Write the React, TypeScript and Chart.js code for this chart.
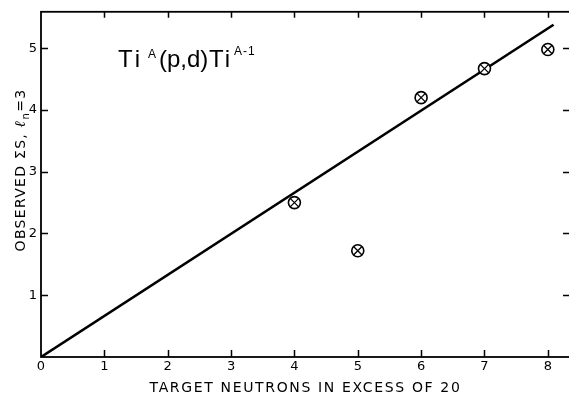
import React, { useEffect, useRef } from "react";
import { Chart, registerables } from "chart.js";

Chart.register(...registerables);

// ---- data ----
const neutronsInExcess = [4, 5, 6, 7, 8];
const observedSum = [2.5, 1.72, 4.2, 4.67, 4.98];
const fitLineX = [0, 8.09];
const fitLineY = [0, 5.38];
const xTickValues = [0, 1, 2, 3, 4, 5, 6, 7, 8];
const yTickValues = [1, 2, 3, 4, 5];
const xAxisTitle = "TARGET NEUTRONS IN EXCESS OF 20";
const yAxisTitleMain = "OBSERVED \u03A3S, ";
const yAxisTitleSymbol = "\u2113";
const yAxisTitleSub = "n";
const yAxisTitleTail = "=3";

const framePlugin = {
  id: "frameAndTexts",
  afterDraw(chart: any) {
    const { ctx, chartArea } = chart;
    const { left, right, top, bottom } = chartArea;
    const xs = chart.scales.x;
    const ys = chart.scales.y;
    ctx.save();
    ctx.strokeStyle = "#000";
    ctx.lineWidth = 1.8;
    ctx.strokeRect(left, top, right - left, bottom - top);
    ctx.lineWidth = 1.5;
    ctx.beginPath();
    xTickValues.forEach((v) => {
      if (v === 0) return;
      const px = Math.round(xs.getPixelForValue(v)) + 0.5;
      ctx.moveTo(px, bottom);
      ctx.lineTo(px, bottom - 7);
      ctx.moveTo(px, top);
      ctx.lineTo(px, top + 6);
    });
    yTickValues.forEach((v) => {
      const py = Math.round(ys.getPixelForValue(v)) + 0.5;
      ctx.moveTo(left, py);
      ctx.lineTo(left + 7, py);
      ctx.moveTo(right, py);
      ctx.lineTo(right - 7, py);
    });
    ctx.stroke();

    // x axis title
    ctx.fillStyle = "#000";
    ctx.font = "14px 'DejaVu Sans'";
    (ctx as any).letterSpacing = "1.65px";
    ctx.textAlign = "center";
    ctx.textBaseline = "alphabetic";
    ctx.fillText(xAxisTitle, (left + right) / 2, 392);

    // y axis title (rotated)
    ctx.save();
    ctx.translate(25, 170);
    ctx.rotate(-Math.PI / 2);
    ctx.textAlign = "left";
    (ctx as any).letterSpacing = "1.3px";
    const parts: [string, string, number][] = [
      [yAxisTitleMain, "14px 'DejaVu Sans'", 0],
      [yAxisTitleSymbol, "italic bold 15px 'DejaVu Serif'", 0],
      [yAxisTitleSub, "10px 'DejaVu Sans'", 4],
      [yAxisTitleTail, "14px 'DejaVu Sans'", 0],
    ];
    let total = 0;
    parts.forEach(([t, f]) => {
      ctx.font = f;
      total += ctx.measureText(t).width;
    });
    let cx = -total / 2;
    parts.forEach(([t, f, dy]) => {
      ctx.font = f;
      ctx.fillText(t, cx, dy);
      cx += ctx.measureText(t).width;
    });
    ctx.restore();

    // reaction label
    ctx.textAlign = "left";
    const big = "24px 'Liberation Sans'";
    const small = "12px 'Liberation Sans'";
    ctx.font = big;
    (ctx as any).letterSpacing = "3px";
    ctx.fillText("Ti", 118, 67);
    ctx.font = small;
    (ctx as any).letterSpacing = "0px";
    ctx.fillText("A", 148, 58);
    ctx.font = big;
    ctx.fillText("(p,d)", 159, 67);
    (ctx as any).letterSpacing = "2px";
    ctx.fillText("Ti", 209, 67);
    ctx.font = small;
    (ctx as any).letterSpacing = "1px";
    ctx.fillText("A-1", 234, 55);
    ctx.restore();
  },
};

export default function App() {
  const ref = useRef<HTMLCanvasElement | null>(null);
  useEffect(() => {
    if (!ref.current) return;
    const chart = new Chart(ref.current, {
      type: "scatter",
      data: {
        datasets: [
          {
            type: "line",
            data: fitLineX.map((x, i) => ({ x, y: fitLineY[i] })),
            borderColor: "#000",
            borderWidth: 2.6,
            pointRadius: 0,
            fill: false,
            order: 3,
          } as any,
          {
            data: neutronsInExcess.map((x, i) => ({ x, y: observedSum[i] })),
            pointStyle: "circle",
            pointRadius: 6,
            borderColor: "#000",
            backgroundColor: "#fff",
            borderWidth: 1.6,
            order: 2,
          },
          {
            data: neutronsInExcess.map((x, i) => ({ x, y: observedSum[i] })),
            pointStyle: "crossRot",
            pointRadius: 6,
            borderColor: "#000",
            borderWidth: 1.3,
            order: 1,
          },
        ],
      },
      options: {
        animation: false,
        responsive: false,
        devicePixelRatio: 1,
        layout: { padding: { top: 6, right: 10, left: 0, bottom: 0 } },
        plugins: { legend: { display: false }, tooltip: { enabled: false } },
        scales: {
          x: {
            type: "linear",
            min: 0,
            max: 8.35,
            grid: { display: false, drawTicks: false },
            border: { display: false },
            afterBuildTicks: (s: any) => {
              s.ticks = xTickValues.map((v) => ({ value: v }));
            },
            afterFit: (s: any) => {
              s.height = 41;
            },
            ticks: {
              color: "#000",
              padding: 2,
              maxRotation: 0,
              font: { family: "'DejaVu Sans'", size: 13 },
              callback: (v: any) => String(v),
            },
          },
          y: {
            type: "linear",
            min: 0,
            max: 5.59,
            grid: { display: false, drawTicks: false },
            border: { display: false },
            afterBuildTicks: (s: any) => {
              s.ticks = yTickValues.map((v) => ({ value: v }));
            },
            afterFit: (s: any) => {
              s.width = 41;
            },
            ticks: {
              color: "#000",
              padding: 4,
              font: { family: "'DejaVu Sans'", size: 13 },
              callback: (v: any) => String(v),
            },
          },
        },
      },
      plugins: [framePlugin],
    });
    return () => chart.destroy();
  }, []);
  return (
    <div
      style={{
        position: "fixed",
        left: 0,
        top: 0,
        width: 569,
        height: 398,
        overflow: "hidden",
        background: "#fff",
      }}
    >
      <canvas ref={ref} width={580} height={398} style={{ display: "block" }} />
    </div>
  );
}
